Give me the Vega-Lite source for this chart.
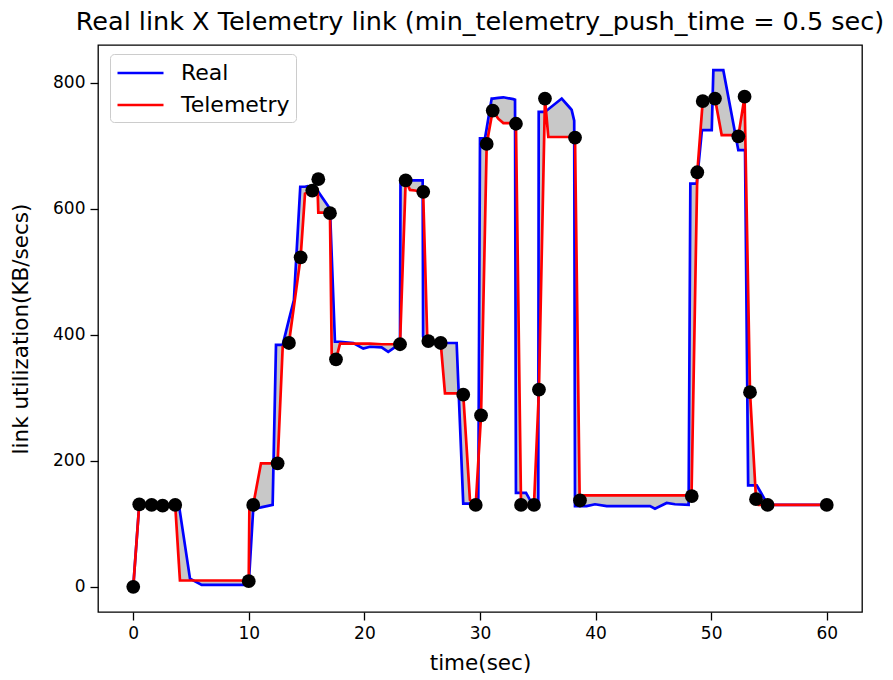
{
  "$schema": "https://vega.github.io/schema/vega-lite/v6.json",
  "autosize": {"type": "none"},
  "padding": {"left": 98, "top": 45, "right": 31, "bottom": 68},
  "width": 764,
  "height": 567,
  "title": {"text": "Real link X Telemetry link (min_telemetry_push_time = 0.5 sec)", "font": "DejaVu Sans", "fontSize": 25.5, "fontWeight": "normal", "color": "#000000", "offset": 10},
  "config": {
    "view": {"stroke": "#000000", "strokeWidth": 1.3},
    "font": "DejaVu Sans",
    "axis": {"grid": false, "domain": false, "tickColor": "#000000", "tickSize": 8, "tickWidth": 1.3, "labelColor": "#000000", "labelFont": "DejaVu Sans", "labelFontSize": 17, "titleFont": "DejaVu Sans", "titleFontSize": 21.5, "titleFontWeight": "normal", "titleColor": "#000000"}
  },
  "datasets": {
    "lines": [
      {"x": 0, "Real": 0, "Telemetry": 0},
      {"x": 0.52, "Real": 131, "Telemetry": 131},
      {"x": 3.63, "Real": 130, "Telemetry": 130},
      {"x": 3.95, "Real": 130, "Telemetry": 36},
      {"x": 4.04, "Real": 119, "Telemetry": 10},
      {"x": 4.91, "Real": 13, "Telemetry": 10},
      {"x": 5.92, "Real": 3, "Telemetry": 10},
      {"x": 9.99, "Real": 3, "Telemetry": 10},
      {"x": 10.05, "Real": 22, "Telemetry": 130},
      {"x": 10.38, "Real": 124, "Telemetry": 130},
      {"x": 11.05, "Real": 126, "Telemetry": 196},
      {"x": 12.06, "Real": 130, "Telemetry": 196},
      {"x": 12.11, "Real": 174, "Telemetry": 196},
      {"x": 12.35, "Real": 384, "Telemetry": 196},
      {"x": 12.49, "Real": 384, "Telemetry": 196},
      {"x": 12.93, "Real": 384, "Telemetry": 381},
      {"x": 13.47, "Real": 424, "Telemetry": 387},
      {"x": 13.9, "Real": 455, "Telemetry": 445},
      {"x": 14.45, "Real": 635, "Telemetry": 519},
      {"x": 14.48, "Real": 635, "Telemetry": 523},
      {"x": 14.86, "Real": 635, "Telemetry": 624},
      {"x": 15.1, "Real": 636, "Telemetry": 626},
      {"x": 15.49, "Real": 633, "Telemetry": 629},
      {"x": 15.9, "Real": 630, "Telemetry": 630},
      {"x": 15.95, "Real": 629, "Telemetry": 630},
      {"x": 16.01, "Real": 627, "Telemetry": 594},
      {"x": 16.87, "Real": 604, "Telemetry": 594},
      {"x": 17.02, "Real": 600, "Telemetry": 593},
      {"x": 17.17, "Real": 526, "Telemetry": 370},
      {"x": 17.45, "Real": 389, "Telemetry": 363},
      {"x": 17.54, "Real": 389, "Telemetry": 361},
      {"x": 17.89, "Real": 389, "Telemetry": 386},
      {"x": 19.04, "Real": 387, "Telemetry": 386},
      {"x": 19.9, "Real": 378, "Telemetry": 386},
      {"x": 20.48, "Real": 381, "Telemetry": 386},
      {"x": 21.49, "Real": 380, "Telemetry": 385},
      {"x": 22.06, "Real": 373, "Telemetry": 385},
      {"x": 22.93, "Real": 384, "Telemetry": 385},
      {"x": 23.08, "Real": 386, "Telemetry": 385},
      {"x": 23.12, "Real": 640, "Telemetry": 406},
      {"x": 23.22, "Real": 644, "Telemetry": 459},
      {"x": 23.57, "Real": 645, "Telemetry": 645},
      {"x": 23.94, "Real": 645, "Telemetry": 630},
      {"x": 24.37, "Real": 645, "Telemetry": 629},
      {"x": 25.04, "Real": 645, "Telemetry": 627},
      {"x": 25.08, "Real": 397, "Telemetry": 627},
      {"x": 25.38, "Real": 386, "Telemetry": 431},
      {"x": 25.44, "Real": 386, "Telemetry": 392},
      {"x": 25.53, "Real": 386, "Telemetry": 390},
      {"x": 26.6, "Real": 387, "Telemetry": 387},
      {"x": 26.97, "Real": 387, "Telemetry": 307},
      {"x": 27.98, "Real": 387, "Telemetry": 307},
      {"x": 28.12, "Real": 324, "Telemetry": 307},
      {"x": 28.55, "Real": 132, "Telemetry": 305},
      {"x": 29.13, "Real": 132, "Telemetry": 138},
      {"x": 29.63, "Real": 132, "Telemetry": 130},
      {"x": 29.85, "Real": 132, "Telemetry": 198},
      {"x": 30.0, "Real": 712, "Telemetry": 244},
      {"x": 30.09, "Real": 712, "Telemetry": 272},
      {"x": 30.43, "Real": 712, "Telemetry": 571},
      {"x": 30.58, "Real": 728, "Telemetry": 703},
      {"x": 31.01, "Real": 775, "Telemetry": 747},
      {"x": 31.1, "Real": 775, "Telemetry": 756},
      {"x": 31.58, "Real": 776, "Telemetry": 743},
      {"x": 32.02, "Real": 777, "Telemetry": 736},
      {"x": 32.88, "Real": 774, "Telemetry": 736},
      {"x": 33.03, "Real": 773, "Telemetry": 736},
      {"x": 33.11, "Real": 149, "Telemetry": 735},
      {"x": 33.55, "Real": 149, "Telemetry": 130},
      {"x": 33.98, "Real": 149, "Telemetry": 130},
      {"x": 34.32, "Real": 138, "Telemetry": 130},
      {"x": 34.67, "Real": 130, "Telemetry": 130},
      {"x": 35.04, "Real": 130, "Telemetry": 287},
      {"x": 35.08, "Real": 754, "Telemetry": 304},
      {"x": 35.1, "Real": 754, "Telemetry": 313},
      {"x": 35.62, "Real": 754, "Telemetry": 775},
      {"x": 35.91, "Real": 758, "Telemetry": 714},
      {"x": 37.07, "Real": 775, "Telemetry": 714},
      {"x": 37.79, "Real": 760, "Telemetry": 714},
      {"x": 37.93, "Real": 757, "Telemetry": 714},
      {"x": 38.15, "Real": 740, "Telemetry": 713},
      {"x": 38.22, "Real": 128, "Telemetry": 713},
      {"x": 38.62, "Real": 128, "Telemetry": 143},
      {"x": 38.9, "Real": 128, "Telemetry": 145},
      {"x": 39.23, "Real": 128, "Telemetry": 145},
      {"x": 39.95, "Real": 131, "Telemetry": 145},
      {"x": 40.96, "Real": 128, "Telemetry": 145},
      {"x": 44.71, "Real": 128, "Telemetry": 145},
      {"x": 45.14, "Real": 124, "Telemetry": 145},
      {"x": 46.15, "Real": 133, "Telemetry": 145},
      {"x": 46.87, "Real": 131, "Telemetry": 145},
      {"x": 48.05, "Real": 130, "Telemetry": 145},
      {"x": 48.2, "Real": 640, "Telemetry": 145},
      {"x": 48.3, "Real": 640, "Telemetry": 145},
      {"x": 48.75, "Real": 640, "Telemetry": 607},
      {"x": 48.8, "Real": 649, "Telemetry": 658},
      {"x": 49.2, "Real": 725, "Telemetry": 754},
      {"x": 49.27, "Real": 725, "Telemetry": 771},
      {"x": 50.05, "Real": 725, "Telemetry": 774},
      {"x": 50.19, "Real": 820, "Telemetry": 774},
      {"x": 50.33, "Real": 820, "Telemetry": 775},
      {"x": 50.91, "Real": 820, "Telemetry": 717},
      {"x": 51.05, "Real": 820, "Telemetry": 717},
      {"x": 51.78, "Real": 749, "Telemetry": 717},
      {"x": 52.35, "Real": 693, "Telemetry": 715},
      {"x": 52.89, "Real": 693, "Telemetry": 778},
      {"x": 52.93, "Real": 693, "Telemetry": 738},
      {"x": 53.2, "Real": 161, "Telemetry": 469},
      {"x": 53.36, "Real": 161, "Telemetry": 309},
      {"x": 53.88, "Real": 161, "Telemetry": 139},
      {"x": 53.94, "Real": 161, "Telemetry": 137},
      {"x": 54.1, "Real": 156, "Telemetry": 130},
      {"x": 54.66, "Real": 138, "Telemetry": 130},
      {"x": 54.88, "Real": 130, "Telemetry": 130},
      {"x": 60, "Real": 130, "Telemetry": 130}
    ],
    "dots": [
      {"x": 0, "y": 0}, {"x": 0.52, "y": 131}, {"x": 1.59, "y": 130}, {"x": 2.54, "y": 129}, {"x": 3.63, "y": 130},
      {"x": 9.99, "y": 9}, {"x": 10.38, "y": 130}, {"x": 12.49, "y": 196}, {"x": 13.47, "y": 387}, {"x": 14.48, "y": 523},
      {"x": 15.49, "y": 629}, {"x": 16.01, "y": 647}, {"x": 17.02, "y": 593}, {"x": 17.54, "y": 361}, {"x": 23.08, "y": 385},
      {"x": 23.57, "y": 645}, {"x": 25.09, "y": 627}, {"x": 25.53, "y": 390}, {"x": 26.6, "y": 387}, {"x": 28.55, "y": 305},
      {"x": 29.63, "y": 130}, {"x": 30.09, "y": 272}, {"x": 30.58, "y": 703}, {"x": 31.1, "y": 756}, {"x": 33.11, "y": 735},
      {"x": 33.55, "y": 130}, {"x": 34.67, "y": 130}, {"x": 35.1, "y": 313}, {"x": 35.62, "y": 775}, {"x": 38.22, "y": 713},
      {"x": 38.65, "y": 137}, {"x": 48.32, "y": 144}, {"x": 48.8, "y": 658}, {"x": 49.27, "y": 771}, {"x": 50.33, "y": 775},
      {"x": 52.35, "y": 715}, {"x": 52.89, "y": 778}, {"x": 53.36, "y": 309}, {"x": 53.88, "y": 139}, {"x": 54.88, "y": 130},
      {"x": 60, "y": 130}
    ]
  },
  "layer": [
    {
      "data": {"name": "lines"},
      "mark": {"type": "area", "color": "#c8c8c8", "opacity": 1},
      "encoding": {
        "x": {"field": "x", "type": "quantitative", "scale": {"domain": [-3.05, 63.05], "nice": false, "zero": false}, "axis": {"values": [0, 10, 20, 30, 40, 50, 60], "title": "time(sec)", "titlePadding": 11, "labelPadding": 5}},
        "y": {"field": "Real", "type": "quantitative", "scale": {"domain": [-40, 860], "nice": false, "zero": false}, "axis": {"values": [0, 200, 400, 600, 800], "title": "link utilization(KB/secs)", "titlePadding": 20, "labelPadding": 5}},
        "y2": {"field": "Telemetry"}
      }
    },
    {
      "data": {"name": "lines"},
      "transform": [{"fold": ["Real", "Telemetry"], "as": ["series", "value"]}],
      "mark": {"type": "line", "strokeWidth": 2.7},
      "encoding": {
        "x": {"field": "x", "type": "quantitative"},
        "y": {"field": "value", "type": "quantitative"},
        "color": {
          "field": "series", "type": "nominal",
          "scale": {"domain": ["Real", "Telemetry"], "range": ["#0000ff", "#ff0000"]},
          "legend": {"title": null, "orient": "none", "legendX": 12, "legendY": 9, "symbolType": "M-1,0H3", "symbolSize": 529, "symbolStrokeWidth": 2.7, "labelFontSize": 22, "labelFont": "DejaVu Sans", "labelColor": "#000000", "strokeColor": "#cccccc", "fillColor": "#ffffff", "cornerRadius": 4, "padding": 6, "rowPadding": 8, "labelOffset": 39}
        }
      }
    },
    {
      "data": {"name": "dots"},
      "mark": {"type": "circle", "color": "#000000", "opacity": 1, "size": 190},
      "encoding": {
        "x": {"field": "x", "type": "quantitative"},
        "y": {"field": "y", "type": "quantitative"}
      }
    }
  ]
}
